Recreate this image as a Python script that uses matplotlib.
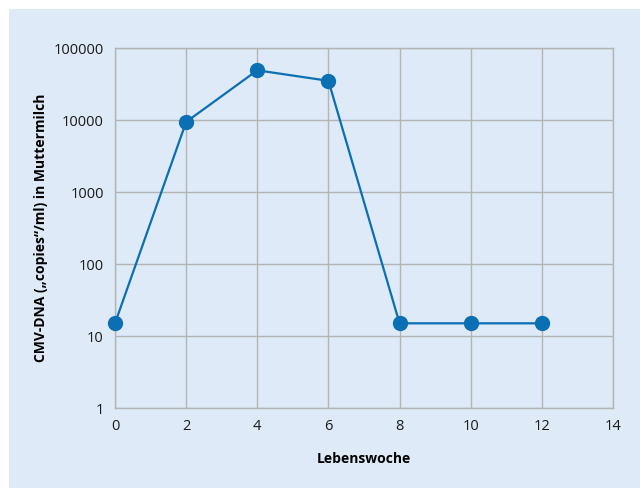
import matplotlib.pyplot as plt
from matplotlib.patches import Rectangle
from matplotlib.ticker import FixedLocator, FuncFormatter

# CMV-DNA in Muttermilch je Lebenswoche
wochen = [0, 2, 4, 6, 8, 10, 12]
kopien = [15, 9400, 49000, 35000, 15, 15, 15]

x_ticks = [0, 2, 4, 6, 8, 10, 12, 14]
y_ticks = [1, 10, 100, 1000, 10000, 100000]

bg = '#deeaf7'
blau = '#0b6fb3'
grau = '#b4b4b4'

plt.rcParams['font.family'] = ['Open Sans', 'DejaVu Sans']

fig = plt.figure(figsize=(6.4, 4.88), dpi=100)
fig.patch.set_facecolor('white')
# hellblauer Hintergrund mit weissem Rand oben und links
fig.add_artist(Rectangle((9 / 640, 0), 1, 1 - 9 / 488, transform=fig.transFigure,
                         facecolor=bg, edgecolor='none', zorder=-10))

ax = fig.add_axes([115 / 640, 80 / 488, 498 / 640, 360 / 488])
ax.set_facecolor(bg)
ax.set_yscale('log')
ax.set_xlim(0, 14)
ax.set_ylim(1, 100000)

ax.plot(wochen, kopien, color=blau, lw=1.6, marker='o', ms=10, zorder=3, clip_on=False)

ax.xaxis.set_major_locator(FixedLocator(x_ticks))
ax.yaxis.set_major_locator(FixedLocator(y_ticks))
ax.yaxis.set_minor_locator(FixedLocator([]))
ax.yaxis.set_major_formatter(FuncFormatter(lambda v, p: f'{int(v)}'))
ax.grid(True, color=grau, lw=1)
ax.set_axisbelow(True)
ax.tick_params(length=0, labelsize=10.5, colors='#1a1a1a', pad=8)
ax.tick_params(axis='y', pad=8)
for s in ax.spines.values():
    s.set_color(grau)
    s.set_linewidth(1)

ax.set_xlabel('Lebenswoche', fontsize=10, fontweight='bold', labelpad=13)
ax.set_ylabel('CMV-DNA (\u201ecopies\u201c/ml) in Muttermilch', fontsize=10,
              fontweight='bold', labelpad=4)

fig.savefig('out.png', dpi=100, facecolor=fig.get_facecolor())
